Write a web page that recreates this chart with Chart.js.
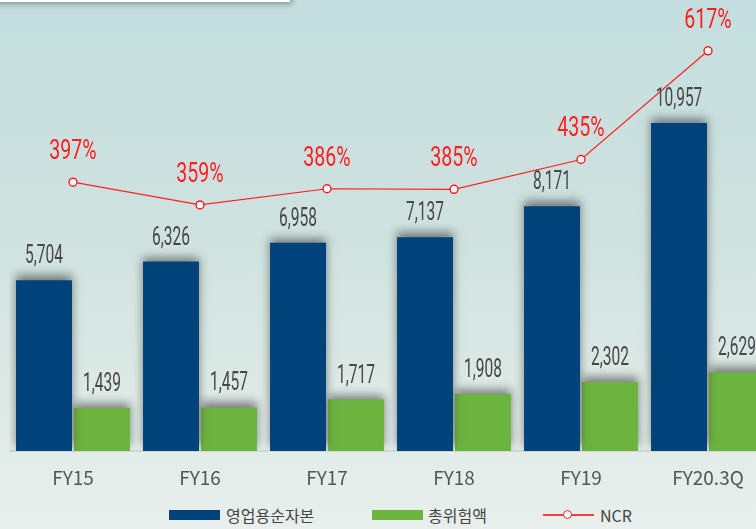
<!DOCTYPE html>
<html>
<head>
<meta charset="utf-8">
<script src="https://cdn.jsdelivr.net/npm/chart.js@4"></script>
<style>
  html, body { margin: 0; padding: 0; }
  body {
    width: 756px; height: 529px; overflow: hidden; position: relative;
    background: linear-gradient(180deg, #c4dedf 0%, #cfe2df 45%, #e0ebe7 80%, #e8efec 100%);
    font-family: "Noto Sans CJK KR", "Noto Sans", sans-serif;
  }
  #topbox {
    position: absolute; left: -10px; top: -20px; width: 300px; height: 22px;
    background: #fff; box-shadow: 2px 2px 6px rgba(0,0,0,0.35);
  }
  #wrap { position: absolute; left: 0; top: 0; width: 780px; height: 490px; }
  #legend {
    position: absolute; top: 502px; left: 0; width: 756px; height: 26px;
    font-size: 16px; color: #444;
  }
  .lg { position: absolute; top: 0; line-height: 26px; }
  .sw { position: absolute; top: 8px; width: 51px; height: 10px; }
</style>
</head>
<body>
<div id="topbox"></div>
<div id="wrap"><canvas id="chart" width="780" height="490"></canvas></div>
<div id="legend">
  <div class="sw" style="left:169px;background:#00437a"></div>
  <div class="lg" style="left:226px">영업용순자본</div>
  <div class="sw" style="left:372px;background:#6db33f"></div>
  <div class="lg" style="left:428px">총위험액</div>
  <div style="position:absolute;left:543px;top:12px;width:51px;height:2px;background:#ff3b3b"></div>
  <div style="position:absolute;left:563px;top:8px;width:7px;height:7px;border:1.5px solid #ff2020;border-radius:50%;background:#fff"></div>
  <div class="lg" style="left:600px">NCR</div>
</div>
<script>
const categories = ['FY15', 'FY16', 'FY17', 'FY18', 'FY19', 'FY20.3Q'];
const netCapital = [5704, 6326, 6958, 7137, 8171, 10957];   // 영업용순자본
const totalRisk = [1439, 1457, 1717, 1908, 2302, 2629];     // 총위험액
const ncr = [397, 359, 386, 385, 435, 617];                 // NCR %

const NAVY = '#00437a';
const GREEN = '#6db33f';
const RED = '#ff2020';

// soft dark shadow above the bars
const barShadow = {
  id: 'barShadow',
  beforeDatasetDraw(chart, args) {
    if (chart.data.datasets[args.index].type !== 'bar') return;
    const c = chart.ctx;
    c.save();
    c.shadowColor = 'rgba(40,40,40,0.55)';
    c.shadowBlur = 9;
    c.shadowOffsetY = -5;
  },
  afterDatasetDraw(chart, args) {
    if (chart.data.datasets[args.index].type !== 'bar') return;
    chart.ctx.restore();
  }
};

function narrowText(c, text, x, y, scale) {
  c.save();
  c.translate(x, y);
  c.scale(scale, 1);
  c.fillText(text, 0, 0);
  c.restore();
}

const valueLabels = {
  id: 'valueLabels',
  afterDatasetsDraw(chart) {
    const c = chart.ctx;
    c.save();
    c.textAlign = 'center';
    c.textBaseline = 'alphabetic';
    chart.data.datasets.forEach((ds, i) => {
      const meta = chart.getDatasetMeta(i);
      meta.data.forEach((el, j) => {
        const v = ds.data[j];
        if (ds.type === 'bar') {
          c.font = '25px Roboto';
          c.fillStyle = '#474747';
          narrowText(c, v.toLocaleString('en-US'), el.x, el.y - 17, 0.62);
        } else {
          c.font = '28px Roboto';
          c.fillStyle = RED;
          narrowText(c, v + '%', el.x, el.y - 23, 0.7);
        }
      });
    });
    c.restore();
  }
};

new Chart(document.getElementById('chart'), {
  data: {
    labels: categories,
    datasets: [
      {
        type: 'line', label: 'NCR', data: ncr, yAxisID: 'y1', order: 0,
        borderColor: RED, borderWidth: 1.2, tension: 0,
        pointRadius: 4, pointBackgroundColor: '#fff', pointBorderColor: RED, pointBorderWidth: 1.5
      },
      {
        type: 'bar', label: '영업용순자본', data: netCapital, yAxisID: 'y', order: 1,
        backgroundColor: NAVY, barPercentage: 0.9655, categoryPercentage: 0.913
      },
      {
        type: 'bar', label: '총위험액', data: totalRisk, yAxisID: 'y', order: 1,
        backgroundColor: GREEN, barPercentage: 0.9655, categoryPercentage: 0.913
      }
    ]
  },
  options: {
    responsive: false,
    animation: false,
    layout: { autoPadding: false, padding: { left: 9.5, right: 8.5, top: 0, bottom: 0 } },
    plugins: { legend: { display: false }, tooltip: { enabled: false } },
    scales: {
      x: {
        afterFit(s) { s.height = 39; },
        grid: { display: false, drawTicks: false },
        border: { display: true, color: '#d2d6d4', width: 2 },
        ticks: { color: '#555', padding: 15, font: { family: 'Noto Sans CJK KR', size: 19 } }
      },
      y: { display: false, min: 0, max: 15064 },
      y1: { display: false, min: -53, max: 702 }
    }
  },
  plugins: [barShadow, valueLabels]
});
</script>
</body>
</html>
